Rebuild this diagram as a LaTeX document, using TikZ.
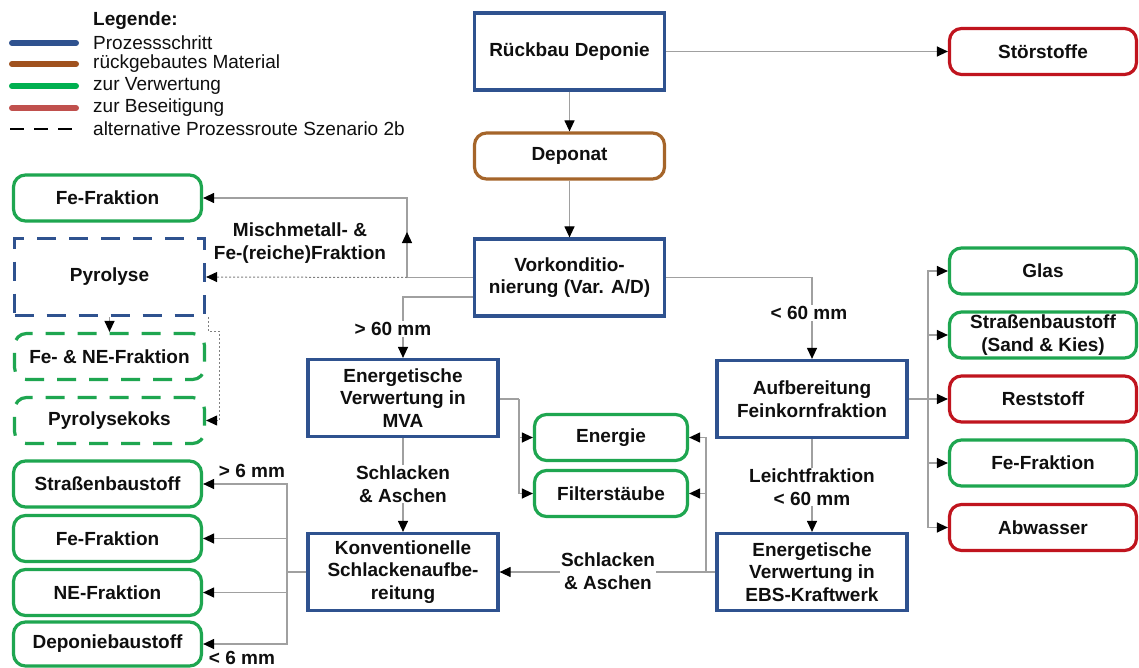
\documentclass[tikz,border=0pt]{standalone}
\usepackage{fontspec}
\setmainfont{Liberation Sans}
\usetikzlibrary{arrows.meta}
\definecolor{cblue}{RGB}{47,82,143}
\definecolor{cbrown}{RGB}{165,101,42}
\definecolor{cgreen}{RGB}{30,166,80}
\definecolor{cred}{RGB}{192,20,30}
\definecolor{lgreen}{RGB}{0,176,80}
\definecolor{lred}{RGB}{192,80,77}
\definecolor{lbrown}{RGB}{160,82,30}
\definecolor{cgray}{RGB}{160,160,160}
\definecolor{txt}{RGB}{15,15,15}
\begin{document}
\begin{tikzpicture}[x=1pt,y=-1pt,
  bf/.style={font=\bfseries\fontsize{19}{22.5}\selectfont, text=txt},
  proc/.style={bf, draw=cblue, line width=3.2pt, minimum width=190pt, minimum height=77pt, inner sep=0pt, align=center},
  res/.style={bf, rounded corners=12pt, line width=3.2pt, minimum width=188pt, minimum height=46pt, inner sep=0pt, align=center},
  gres/.style={res, draw=cgreen},
  rres/.style={res, draw=cred},
  bres/.style={res, draw=cbrown},
  dashg/.style={gres, dash pattern=on 19pt off 13pt},
  conn/.style={draw=cgray, line width=1.2pt, -{Triangle[length=11pt,width=10pt,black]}},
  line/.style={draw=cgray, line width=1.2pt},
  dotline/.style={draw=gray, line width=1pt, dash pattern=on 2pt off 2pt},
  lbl/.style={bf, fill=white, inner sep=1pt, align=center},
  legtxt/.style={anchor=west, inner sep=0pt, text=txt, font=\fontsize{19}{21}\selectfont},
  legline/.style={line width=6pt, line cap=round}
]
\useasboundingbox (0,0) rectangle (1139,668);
\fill[white] (0,0) rectangle (1139,668);

% Legend
\node[legtxt, font=\bfseries\fontsize{19}{21}\selectfont] (leg) at (93,21) {Legende:};
\draw[legline, cblue] (12,43) -- (76,43);
\node[legtxt] (l1) at (93,43) {Prozessschritt};
\draw[legline, lbrown] (12,64) -- (76,64);
\node[legtxt] (l2) at (93,64) {rückgebautes Material};
\draw[legline, lgreen] (12,86) -- (76,86);
\node[legtxt] (l3) at (93,86) {zur Verwertung};
\draw[legline, lred] (12,108) -- (76,108);
\node[legtxt] (l4) at (93,108) {zur Beseitigung};
\draw[black, line width=1.6pt, dash pattern=on 14pt off 10pt] (10,129) -- (76,129);
\node[legtxt] (l5) at (93,129) {alternative Prozessroute Szenario 2b};

% Main column
\node[proc] (rueck) at (569.5,51.5) {Rückbau Deponie};
\node[rres, minimum width=187pt] (stoer) at (1043,51.5) {Störstoffe};
\node[bres, minimum width=190pt] (deponat) at (569.5,156) {Deponat};
\node[proc] (vork) at (569.5,277.5) {Vorkonditio-\\nierung (Var. A/D)};

% Left upper
\node[gres] (feF1) at (107.5,198) {Fe-Fraktion};
\node[proc, dash pattern=on 19pt off 13pt] (pyro) at (109.5,277) {Pyrolyse};
\node[dashg, minimum width=190pt] (feNE) at (109.5,356.5) {Fe- \& NE-Fraktion};
\node[dashg, minimum width=190pt] (pkoks) at (109.5,420.5) {Pyrolysekoks};

% Middle
\node[proc] (mva) at (403,398) {Energetische\\Verwertung in\\MVA};
\node[proc] (aufb) at (812,399) {Aufbereitung\\Feinkornfraktion};
\node[gres, minimum width=153pt] (energie) at (611,437.5) {Energie};
\node[gres, minimum width=153pt] (filter) at (611,493.5) {Filterstäube};
\node[proc] (konv) at (403,572) {Konventionelle\\Schlackenaufbe-\\reitung};
\node[proc] (ebs) at (812,572) {Energetische\\Verwertung in\\EBS-Kraftwerk};

% Right column
\node[gres, minimum width=187pt] (glas) at (1043,271) {Glas};
\node[gres, minimum width=187pt] (strR) at (1043,335) {Straßenbaustoff\\(Sand \& Kies)};
\node[rres, minimum width=187pt] (rest) at (1043,399) {Reststoff};
\node[gres, minimum width=187pt] (feR) at (1043,463) {Fe-Fraktion};
\node[rres, minimum width=187pt] (abw) at (1043,527.5) {Abwasser};

% Left lower
\node[gres] (strL) at (107.5,484) {Straßenbaustoff};
\node[gres] (feL) at (107.5,538.5) {Fe-Fraktion};
\node[gres] (neL) at (107.5,592.5) {NE-Fraktion};
\node[gres, minimum height=44pt] (depL) at (107.5,644) {Deponiebaustoff};

% Coordinates
\coordinate (j1) at (407,277.5);
\coordinate (j1t) at (407,198);
\coordinate (j2) at (403,297);
\coordinate (j3) at (812,277.5);
\coordinate (jm) at (519,399);
\coordinate (je) at (706,572);
\coordinate (jr) at (928,399);
\coordinate (jk) at (287,572);
\coordinate (p1) at (208,317);
\coordinate (p2) at (208,331);
\coordinate (p3) at (219,331);
\coordinate (p4) at (219,420.5);

% Connectors top
\draw[conn] (rueck.east) -- (stoer.west);
\draw[conn] (rueck.south) -- (deponat.north);
\draw[conn] (deponat.south) -- (vork.north);

% to Fe-Fraktion and Pyrolyse
\draw[line] (vork.west) -- (j1);
\draw[conn] (j1) -- (j1t) -- (feF1.east);
\draw[conn] (j1) -- (407,232);
\draw[dotline, -{Triangle[length=11pt,width=10pt,black]}] (j1) -- (pyro.east);
\node[bf, align=center] (misch) at (300,243) {Mischmetall- \&\\Fe-(reiche)Fraktion};

% Pyrolyse outputs
\draw[conn] (pyro.south) -- (feNE.north);
\draw[dotline, -{Triangle[length=11pt,width=10pt,black]}] (p1) -- (p2) -- (p3) -- (p4) -- (pkoks.east);

% > 60 mm
\draw[conn] (vork.west |- j2) -- (j2) -- (mva.north);
\node[lbl] (g60) at (393,329) {> 60 mm};

% < 60 mm
\draw[conn] (vork.east) -- (j3) -- (aufb.north);
\node[lbl] (k60) at (809,313) {< 60 mm};

% MVA outputs
\draw[line] (mva.east |- jm) -- (jm);
\draw[conn] (jm) |- (energie.west);
\draw[conn] (jm) |- (filter.west);
\draw[conn] (mva.south) -- (konv.north);
\node[lbl] (sa1) at (403,484) {Schlacken\\\& Aschen};

% Aufbereitung outputs
\draw[conn] (aufb.south) -- (ebs.north);
\node[lbl] (leicht) at (812,487) {Leichtfraktion\\< 60 mm};
\draw[line] (aufb.east |- jr) -- (jr);
\draw[conn] (jr) |- (glas.west);
\draw[conn] (jr) |- (strR.west);
\draw[conn] (jr) -- (rest.west);
\draw[conn] (jr) |- (feR.west);
\draw[conn] (jr) |- (abw.west);

% EBS outputs
\draw[line] (ebs.west) -- (je);
\draw[conn] (je) |- (energie.east);
\draw[conn] (je) |- (filter.east);
\draw[conn] (je) -- (konv.east);
\node[lbl] (sa2) at (608,571) {Schlacken\\\& Aschen};

% Konventionelle outputs
\draw[line] (konv.west) -- (jk);
\draw[conn] (jk) |- (strL.east);
\draw[conn] (jk) |- (feL.east);
\draw[conn] (jk) |- (neL.east);
\draw[conn] (jk) |- (depL.east);
\node[bf] (g6) at (252,471) {> 6 mm};
\node[bf] (k6) at (242,658) {< 6 mm};
\end{tikzpicture}
\end{document}
